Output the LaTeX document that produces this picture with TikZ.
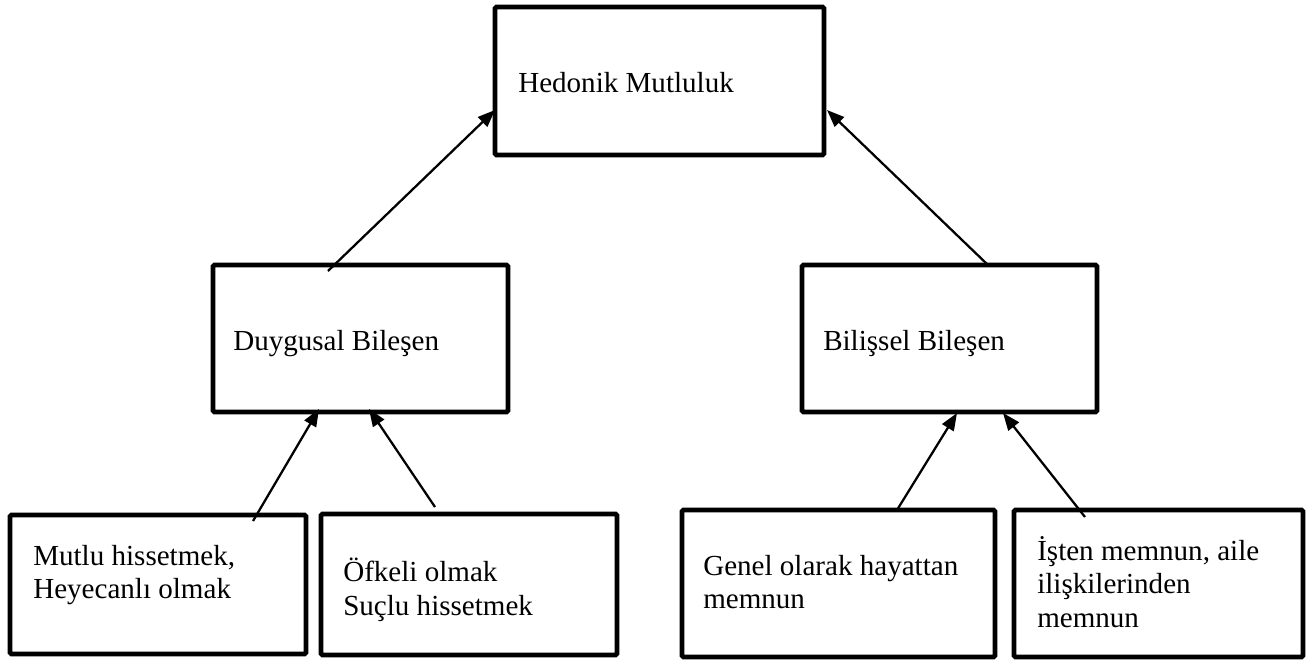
\documentclass[tikz,border=0pt]{standalone}
\usepackage{fontspec}
\setmainfont{Liberation Serif}
\usetikzlibrary{arrows.meta,calc}
\begin{document}
\begin{tikzpicture}[x=0.75pt,y=-0.75pt,
  box/.style={draw,line width=3.4pt,rounded corners=1pt,inner sep=0pt,outer sep=0pt},
  lbl/.style={anchor=base west,inner sep=0pt,font=\fontsize{21.8}{25}\selectfont},
  conn/.style={line width=1.7pt,-{Triangle[length=13pt,width=10pt]}}]
\useasboundingbox (0,0) rectangle (1311,664);
% boxes
\node[box,minimum width=246.75pt,minimum height=111pt] (hed) at (659.5,81) {};
\node[box,minimum width=221.25pt,minimum height=110.25pt] (duy) at (360.5,338.5) {};
\node[box,minimum width=221.25pt,minimum height=110.25pt] (bil) at (949.5,338.5) {};
\node[box,minimum width=222pt,minimum height=104.25pt] (b1) at (158,584.5) {};
\node[box,minimum width=222pt,minimum height=105.75pt] (b2) at (469,584.5) {};
\node[box,minimum width=234.75pt,minimum height=110.25pt] (b3) at (838.5,583.5) {};
\node[box,minimum width=216.75pt,minimum height=110.25pt] (b4) at (1158.5,583.5) {};
% texts
\node[lbl] (thed) at (518,92) {Hedonik Mutluluk};
\node[lbl] (tduy) at (233,350) {Duygusal Bileşen};
\node[lbl] (tbil) at (823,350) {Bilişsel Bileşen};
\node[lbl] (tb1a) at (33,565) {Mutlu hissetmek,};
\node[lbl] (tb1b) at (33,598) {Heyecanlı olmak};
\node[lbl] (tb2a) at (343,581) {Öfkeli olmak};
\node[lbl] (tb2b) at (343,615) {Suçlu hissetmek};
\node[lbl] (tb3a) at (703,575) {Genel olarak hayattan};
\node[lbl] (tb3b) at (703,608) {memnun};
\node[lbl] (tb4a) at (1037,560) {İşten memnun, aile};
\node[lbl] (tb4b) at (1037,593) {ilişkilerinden};
\node[lbl] (tb4c) at (1037,627) {memnun};
% connectors
\draw[conn] ($(duy.north west)+(115,6)$) -- ($(hed.north west)+(0,103)$);
\draw[conn] ($(bil.north west)+(186,0)$) -- ($(hed.north east)+(3,103)$);
\draw[conn] ($(b1.north west)+(243,6)$) -- ($(duy.south west)+(106,-3)$);
\draw[conn] ($(b2.north west)+(114,-7)$) -- ($(duy.south west)+(156,-3)$);
\draw[conn] ($(b3.north west)+(215,0)$) -- ($(bil.south west)+(155,1)$);
\draw[conn] ($(b4.north west)+(71,7)$) -- ($(bil.south west)+(201,1)$);
\end{tikzpicture}
\end{document}
